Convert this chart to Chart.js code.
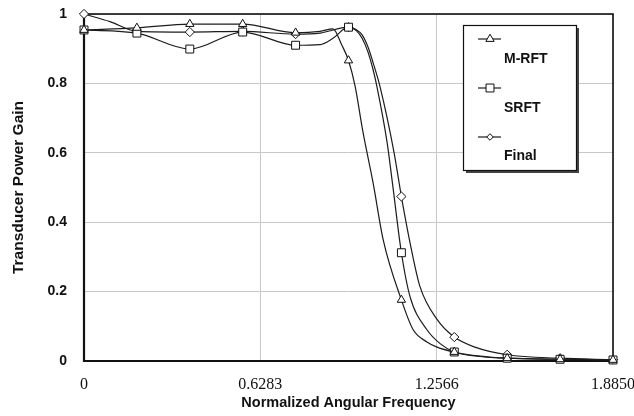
<!DOCTYPE html>
<html><head><meta charset="utf-8">
<script src="https://cdn.jsdelivr.net/npm/chart.js@4.4.1/dist/chart.umd.min.js"></script>
<style>html,body{margin:0;padding:0;background:#fff;} #wrap{width:634px;height:416px;position:relative}</style>
</head><body><div id="wrap"><canvas id="c" width="634" height="416"></canvas></div>
<script>
const seriesNames = ['M-RFT', 'SRFT', 'Final'];
const xTitle = 'Normalized Angular Frequency';
const yTitle = 'Transducer Power Gain';
const markerX = [0, 0.1885, 0.377, 0.5655, 0.754, 0.9425, 1.131, 1.3195, 1.508, 1.6965, 1.885];
const xTicks = [0, 0.6283, 1.2566, 1.885];
const xTickLabels = ['0', '0.6283', '1.2566', '1.8850'];
const yTicks = [0, 0.2, 0.4, 0.6, 0.8, 1];
const yTickLabels = ['0', '0.2', '0.4', '0.6', '0.8', '1'];

const mrftX = [0, 0.1885, 0.377, 0.5655, 0.754, 0.841, 0.887, 0.919, 0.9425, 0.966, 0.994, 1.030, 1.066, 1.131, 1.173, 1.222, 1.258, 1.3195, 1.411, 1.508, 1.6965, 1.885];
const mrftY = [0.954, 0.960, 0.971, 0.971, 0.946, 0.950, 0.957, 0.910, 0.866, 0.792, 0.66, 0.514, 0.35, 0.176, 0.09, 0.055, 0.04, 0.026, 0.014, 0.008, 0.005, 0.003];

const srftX = [0, 0.1885, 0.377, 0.5655, 0.754, 0.841, 0.887, 0.9425, 0.970, 0.991, 1.012, 1.030, 1.044, 1.080, 1.098, 1.131, 1.162, 1.222, 1.269, 1.3195, 1.411, 1.508, 1.6965, 1.885];
const srftY = [0.954, 0.945, 0.899, 0.948, 0.910, 0.912, 0.930, 0.962, 0.952, 0.93, 0.89, 0.84, 0.79, 0.63, 0.52, 0.312, 0.185, 0.09, 0.05, 0.026, 0.013, 0.008, 0.005, 0.003];

const finalX = [0, 0.0927, 0.1885, 0.377, 0.5655, 0.754, 0.841, 0.9425, 0.970, 0.991, 1.012, 1.030, 1.055, 1.105, 1.131, 1.162, 1.197, 1.258, 1.3195, 1.393, 1.508, 1.6965, 1.885];
const finalY = [1.0, 0.978, 0.950, 0.948, 0.950, 0.942, 0.945, 0.962, 0.955, 0.94, 0.905, 0.86, 0.79, 0.60, 0.474, 0.34, 0.215, 0.12, 0.069, 0.04, 0.018, 0.008, 0.004];

const pointStyles = ['triangle', 'rect', 'rectRot'];
const pointSizes = [4.8, 5.6, 4.6];

const isMarker = x => markerX.some(m => Math.abs(m - x) < 1e-6);
const toPts = (xs, ys) => xs.map((x, i) => ({x: x, y: ys[i]}));
const allX = [mrftX, srftX, finalX];
const allY = [mrftY, srftY, finalY];

const datasets = seriesNames.map((name, i) => ({
  label: name,
  data: toPts(allX[i], allY[i]),
  borderColor: '#1c1c1c',
  borderWidth: 1.2,
  backgroundColor: '#fff',
  pointBackgroundColor: '#fff',
  pointBorderColor: '#111',
  pointBorderWidth: 1,
  pointStyle: pointStyles[i],
  pointRadius: ctx => (ctx.raw && isMarker(ctx.raw.x)) ? pointSizes[i] : 0,
  pointHoverRadius: 0,
  cubicInterpolationMode: 'monotone',
  fill: false,
  clip: 6
}));

function drawMarker(ctx, style, r, x, y) {
  ctx.beginPath();
  if (style === 'triangle') {
    ctx.moveTo(x, y - r);
    ctx.lineTo(x + r * Math.cos(Math.PI / 6), y + r / 2);
    ctx.lineTo(x - r * Math.cos(Math.PI / 6), y + r / 2);
    ctx.closePath();
  } else if (style === 'rect') {
    const s = r * Math.SQRT1_2;
    ctx.rect(x - s, y - s, 2 * s, 2 * s);
  } else {
    const s = r * Math.SQRT1_2;
    ctx.moveTo(x - s, y); ctx.lineTo(x, y - s); ctx.lineTo(x + s, y); ctx.lineTo(x, y + s);
    ctx.closePath();
  }
  ctx.fillStyle = '#fff';
  ctx.fill();
  ctx.strokeStyle = '#111';
  ctx.lineWidth = 1;
  ctx.stroke();
}

const framePlugin = {
  id: 'frame',
  beforeDatasetsDraw(chart) {
    const {ctx, chartArea: a} = chart;
    ctx.save();
    ctx.strokeStyle = '#111';
    ctx.lineWidth = 1.6;
    ctx.strokeRect(a.left, a.top, a.right - a.left, a.bottom - a.top);
    ctx.lineWidth = 2.2;
    ctx.beginPath();
    ctx.moveTo(a.left, a.top); ctx.lineTo(a.left, a.bottom); ctx.lineTo(a.right, a.bottom);
    ctx.stroke();
    ctx.restore();
  }
};

const legendPlugin = {
  id: 'boxLegend',
  afterDraw(chart) {
    const ctx = chart.ctx;
    const bx = 463, by = 25, bw = 113, bh = 145;
    ctx.save();
    ctx.fillStyle = '#444';
    ctx.fillRect(bx + 3, by + 3, bw, bh);
    ctx.fillStyle = '#fff';
    ctx.fillRect(bx, by, bw, bh);
    ctx.strokeStyle = '#111';
    ctx.lineWidth = 1.2;
    ctx.strokeRect(bx + 0.5, by + 0.5, bw, bh);
    const lineY = [39, 88, 137];
    const textY = [59, 108, 156];
    seriesNames.forEach((name, i) => {
      ctx.strokeStyle = '#1c1c1c';
      ctx.lineWidth = 1.2;
      ctx.beginPath();
      ctx.moveTo(478, lineY[i]); ctx.lineTo(501, lineY[i]);
      ctx.stroke();
      drawMarker(ctx, pointStyles[i], pointSizes[i], 490, lineY[i]);
      ctx.fillStyle = '#111';
      ctx.font = 'bold 14px "Liberation Sans", Arial, sans-serif';
      ctx.textAlign = 'left';
      ctx.textBaseline = 'middle';
      ctx.fillText(name, 504, textY[i]);
    });
    ctx.restore();
  }
};

const noPad = s => { s.paddingTop = 0; s.paddingBottom = 0; s.paddingLeft = 0; s.paddingRight = 0; };

new Chart(document.getElementById('c'), {
  type: 'line',
  data: {datasets: datasets},
  plugins: [framePlugin, legendPlugin],
  options: {
    responsive: false,
    animation: false,
    devicePixelRatio: 1,
    layout: {padding: {top: 14, right: 21, left: 0, bottom: 0}},
    plugins: {legend: {display: false}, tooltip: {enabled: false}},
    scales: {
      x: {
        type: 'linear',
        min: 0, max: 1.885,
        afterBuildTicks: s => { s.ticks = xTicks.map(v => ({value: v})); },
        afterFit: s => { s.height = 55; noPad(s); },
        ticks: {
          callback: (v, i) => xTickLabels[i],
          font: {family: '"Liberation Serif", "Times New Roman", serif', size: 16},
          color: '#111',
          padding: 14,
          maxRotation: 0,
          autoSkip: false
        },
        grid: {color: '#c8c8c8', lineWidth: 1, drawTicks: false},
        border: {display: false},
        title: {
          display: true, text: xTitle, color: '#111',
          font: {family: '"Liberation Sans", Arial, sans-serif', size: 14.5, weight: 'bold'},
          padding: {top: 0, bottom: 4.5}
        }
      },
      y: {
        min: 0, max: 1,
        afterBuildTicks: s => { s.ticks = yTicks.map(v => ({value: v})); },
        afterFit: s => { s.width = 84; noPad(s); },
        ticks: {
          callback: (v, i) => yTickLabels[i],
          font: {family: '"Liberation Sans", Arial, sans-serif', size: 14, weight: 'bold'},
          color: '#111',
          padding: 17,
          autoSkip: false
        },
        grid: {color: '#c8c8c8', lineWidth: 1, drawTicks: false},
        border: {display: false},
        title: {
          display: true, text: yTitle, color: '#111',
          font: {family: '"Liberation Sans", Arial, sans-serif', size: 15.5, weight: 'bold'},
          padding: {top: 9.7, bottom: 0}
        }
      }
    }
  }
});
</script>
</body></html>
